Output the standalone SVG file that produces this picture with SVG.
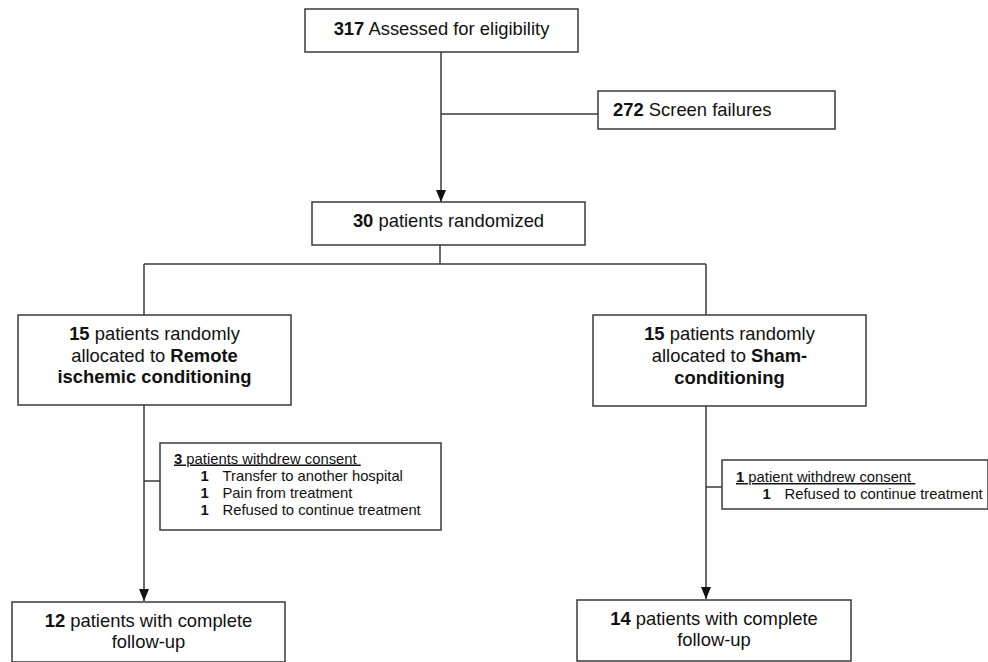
<svg xmlns="http://www.w3.org/2000/svg" width="988" height="662" viewBox="0 0 988 662">
<defs>
<style>
.box{fill:#fff;stroke:#3a3a3a;stroke-width:1.5}
.ln{fill:none;stroke:#3a3a3a;stroke-width:1.5}
text{font-family:"Liberation Sans",Arial,sans-serif;fill:#111}
.m{font-size:18.4px}
.s{font-size:14.8px}
.b{font-weight:bold}
</style>
<marker id="arr" viewBox="0 0 12 10" refX="12" refY="5" markerWidth="12" markerHeight="10" markerUnits="userSpaceOnUse" orient="auto">
<path d="M0,0 L12,5 L0,10 z" fill="#111"/>
</marker>
</defs>
<g id="connectors">
<line class="ln" x1="441" y1="52" x2="441" y2="202" marker-end="url(#arr)"/>
<line class="ln" x1="441" y1="114" x2="598" y2="114"/>
<line class="ln" x1="440" y1="245" x2="440" y2="264"/>
<line class="ln" x1="144" y1="264" x2="706" y2="264"/>
<line class="ln" x1="144" y1="264" x2="144" y2="315"/>
<line class="ln" x1="706" y1="264" x2="706" y2="315"/>
<line class="ln" x1="144" y1="405" x2="144" y2="601" marker-end="url(#arr)"/>
<line class="ln" x1="144" y1="481" x2="160" y2="481"/>
<line class="ln" x1="706" y1="406" x2="706" y2="599" marker-end="url(#arr)"/>
<line class="ln" x1="706" y1="487" x2="722" y2="487"/>
</g>
<g id="assessed">
<rect class="box" x="305" y="9" width="273" height="43"/>
<text class="m" x="441.5" y="35" text-anchor="middle"><tspan class="b">317</tspan> Assessed for eligibility</text>
</g>
<g id="screen-failures">
<rect class="box" x="598" y="91" width="237" height="38"/>
<text class="m" x="613" y="116"><tspan class="b">272</tspan> Screen failures</text>
</g>
<g id="randomized">
<rect class="box" x="312" y="202" width="273" height="43"/>
<text class="m" x="448.5" y="227" text-anchor="middle"><tspan class="b">30</tspan> patients randomized</text>
</g>
<g id="ric-arm">
<rect class="box" x="18" y="315" width="273" height="90"/>
<text class="m" x="154.5" y="340" text-anchor="middle"><tspan class="b">15</tspan> patients randomly</text>
<text class="m" x="154.5" y="362" text-anchor="middle">allocated to <tspan class="b">Remote</tspan></text>
<text class="m b" x="154.5" y="383" text-anchor="middle">ischemic conditioning</text>
</g>
<g id="sham-arm">
<rect class="box" x="593" y="315" width="273" height="91"/>
<text class="m" x="729.5" y="340" text-anchor="middle"><tspan class="b">15</tspan> patients randomly</text>
<text class="m" x="729.5" y="362" text-anchor="middle">allocated to <tspan class="b">Sham-</tspan></text>
<text class="m b" x="729.5" y="384" text-anchor="middle">conditioning</text>
</g>
<g id="ric-withdrawn">
<rect class="box" x="160" y="443" width="281" height="87"/>
<text class="s" x="174" y="463.5" text-decoration="underline"><tspan class="b">3</tspan> patients withdrew consent&#160;</text>
<text class="s" x="200.5" y="480.5"><tspan class="b">1</tspan></text>
<text class="s" x="222.5" y="480.5">Transfer to another hospital</text>
<text class="s" x="200.5" y="497.5"><tspan class="b">1</tspan></text>
<text class="s" x="222.5" y="497.5">Pain from treatment</text>
<text class="s" x="200.5" y="514.5"><tspan class="b">1</tspan></text>
<text class="s" x="222.5" y="514.5">Refused to continue treatment</text>
</g>
<g id="sham-withdrawn">
<rect class="box" x="722" y="460" width="266" height="49"/>
<text class="s" x="736" y="482" text-decoration="underline"><tspan class="b">1</tspan> patient withdrew consent&#160;</text>
<text class="s" x="762.5" y="499"><tspan class="b">1</tspan></text>
<text class="s" x="784.5" y="499">Refused to continue treatment</text>
</g>
<g id="ric-complete">
<rect class="box" x="12" y="602" width="273" height="60"/>
<text class="m" x="148.5" y="627" text-anchor="middle"><tspan class="b">12</tspan> patients with complete</text>
<text class="m" x="148.5" y="648" text-anchor="middle">follow-up</text>
</g>
<g id="sham-complete">
<rect class="box" x="577" y="600" width="274" height="61"/>
<text class="m" x="714" y="625" text-anchor="middle"><tspan class="b">14</tspan> patients with complete</text>
<text class="m" x="714" y="646" text-anchor="middle">follow-up</text>
</g>
</svg>
